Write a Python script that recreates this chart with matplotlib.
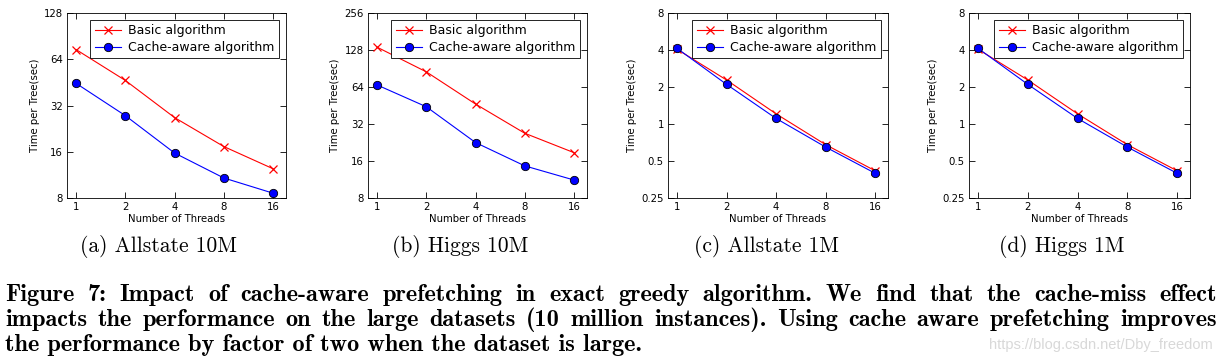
import numpy as np
import matplotlib.pyplot as plt
from matplotlib.ticker import FixedLocator, FixedFormatter, NullLocator

threads = [1, 2, 4, 8, 16]

titles = ['(a) Allstate 10M', '(b) Higgs 10M', '(c) Allstate 1M', '(d) Higgs 1M']
basic = [
    [74, 46.6, 26.7, 17.3, 12.4],
    [135, 85, 46.5, 26.9, 18.7],
    [4.05, 2.28, 1.21, 0.68, 0.417],
    [4.05, 2.28, 1.21, 0.68, 0.417],
]
cache = [
    [44.6, 27.5, 15.7, 10.8, 8.6],
    [66.5, 44.2, 22.6, 14.6, 11.2],
    [4.12, 2.1, 1.11, 0.65, 0.398],
    [4.12, 2.1, 1.11, 0.65, 0.398],
]
yticks = [
    [8, 16, 32, 64, 128],
    [8, 16, 32, 64, 128, 256],
    [0.25, 0.5, 1, 2, 4, 8],
    [0.25, 0.5, 1, 2, 4, 8],
]
ytick_labels = [
    ['8', '16', '32', '64', '128'],
    ['8', '16', '32', '64', '128', '256'],
    ['0.25', '0.5', '1', '2', '4', '8'],
    ['0.25', '0.5', '1', '2', '4', '8'],
]

caption = [
    'Figure 7: Impact of cache-aware prefetching in exact greedy algorithm.  We find that the cache-miss effect',
    'impacts the performance on the large datasets (10 million instances).  Using cache aware prefetching improves',
    'the performance by factor of two when the dataset is large.',
]

W, H = 1222, 364
fig = plt.figure(figsize=(W / 100, H / 100), dpi=100)

lefts = [67, 368, 668, 969]
widths = [219, 219, 220, 221]
cap_x = [158, 460, 767, 1062]

for i in range(4):
    ax = fig.add_axes([lefts[i] / W, (H - 198) / H, widths[i] / W, 185 / H])
    ax.plot(threads, basic[i], color='red', marker='x', lw=0.8, ms=6, mew=0.9,
            label='Basic algorithm')
    ax.plot(threads, cache[i], color='blue', marker='o', lw=0.8, ms=6, mec='black',
            mew=0.6, label='Cache-aware algorithm')
    ax.set_xscale('log', base=2)
    ax.set_yscale('log', base=2)
    ax.set_xlim(0.88, 19.2)
    ax.set_ylim(yticks[i][0], yticks[i][-1])
    ax.xaxis.set_major_locator(FixedLocator(threads))
    ax.xaxis.set_major_formatter(FixedFormatter([str(t) for t in threads]))
    ax.xaxis.set_minor_locator(NullLocator())
    ax.yaxis.set_major_locator(FixedLocator(yticks[i]))
    ax.yaxis.set_major_formatter(FixedFormatter(ytick_labels[i]))
    ax.yaxis.set_minor_locator(NullLocator())
    ax.tick_params(direction='in', length=4, width=0.6, labelsize=7.3,
                   top=True, right=True, pad=3)
    for s in ax.spines.values():
        s.set_linewidth(0.6)
    ax.set_xlabel('Number of Threads', fontsize=7.3, labelpad=1)
    ax.set_ylabel('Time per Tree(sec)', fontsize=7.3, labelpad=3)
    leg = ax.legend(loc='upper right', fontsize=9.0, fancybox=False, framealpha=1,
                    edgecolor='black', borderaxespad=0.55, handlelength=2.1,
                    borderpad=0.35, labelspacing=0.3, handletextpad=0.6)
    leg.get_frame().set_linewidth(0.6)
    fig.text(cap_x[i] / W, 1 - 246 / H, titles[i], family='cmr10', fontsize=15.5,
             ha='center', va='center')

# justified figure caption
renderer = fig.canvas.get_renderer()
x0, x1 = 5, 1217
cap_size = 17.5
for j, line in enumerate(caption):
    y = 1 - (301 + 25 * j) / H
    if j == len(caption) - 1:
        fig.text(x0 / W, y, line, family='cmb10', fontsize=cap_size, ha='left',
                 va='baseline')
        continue
    words = line.split()
    texts = [fig.text(0, y, w, family='cmb10', fontsize=cap_size, ha='left',
                      va='baseline') for w in words]
    wids = [t.get_window_extent(renderer).width for t in texts]
    gap = (x1 - x0 - sum(wids)) / (len(words) - 1)
    x = x0
    for t, w in zip(texts, wids):
        t.set_x(x / W)
        x += w + gap

fig.text(1213 / W, 1 - 345 / H, 'https://blog.csdn.net/Dby_freedom', fontsize=10.5,
         family='Liberation Sans', color='#d8d8d8', ha='right', va='center')

fig.savefig('out.png', dpi=100)
